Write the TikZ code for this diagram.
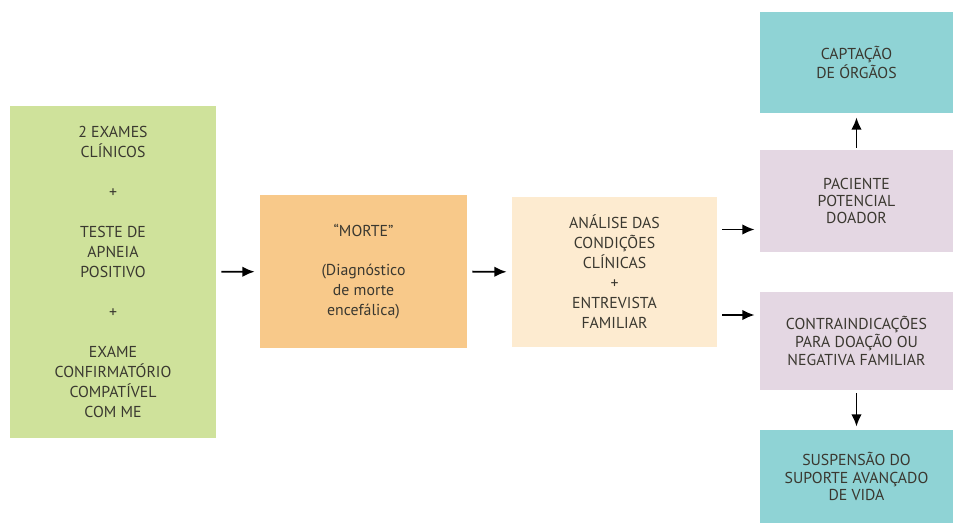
\documentclass[tikz,border=0pt]{standalone}
\usepackage{fontspec}
\setmainfont{PT Sans}
\definecolor{me_green}{RGB}{207, 226, 155}
\definecolor{me_orange}{RGB}{248, 201, 138}
\definecolor{me_beige}{RGB}{253, 235, 208}
\definecolor{me_teal}{RGB}{143, 211, 213}
\definecolor{me_lilac}{RGB}{228, 215, 227}
\definecolor{me_text}{RGB}{58, 56, 48}
\usetikzlibrary{arrows.meta, positioning}

\begin{document}
\begin{tikzpicture}[x=0.02cm, y=-0.02cm,
            font=\fontsize{9}{11.4}\selectfont,
            blk/.style={align=center, inner sep=0pt, text=me_text},
            arr/.style={-{Latex[length=7pt, width=6pt]}, line width=1.1pt,
                        shorten <=0.1cm, shorten >=0.1cm}]
            \useasboundingbox (0,0) rectangle (953,523);
            \node[blk, fill=me_green, minimum width=4.12cm, minimum height=6.64cm] (exams)
              at (113,272) {2 EXAMES\\CLÍNICOS\\[11.4pt]+\\[11.4pt]TESTE DE\\APNEIA\\POSITIVO\\[11.4pt]+\\[11.4pt]EXAME\\CONFIRMATÓRIO\\COMPATÍVEL\\COM ME};
            \node[blk, fill=me_orange, minimum width=4.14cm, minimum height=3.06cm] (death)
              at (363.5,271.5) {“MORTE”\\[10.8pt](Diagnóstico\\de morte\\encefálica)};
            \node[blk, fill=me_beige, minimum width=4.1cm, minimum height=3.0cm] (eval)
              at (614.5,272) {ANÁLISE DAS\\CONDIÇÕES\\CLÍNICAS\\+\\ENTREVISTA\\FAMILIAR};
            \node[blk, fill=me_teal, minimum width=3.86cm, minimum height=2.02cm,
                  font=\fontsize{9}{9.5}\selectfont] (organs)
              at (856.5,62.5) {CAPTAÇÃO\\DE ÓRGÃOS};
            \node[blk, fill=me_lilac, minimum width=3.86cm, minimum height=2.04cm,
                  font=\fontsize{9}{9.5}\selectfont] (donor)
              at (856.5,201) {PACIENTE\\POTENCIAL\\DOADOR};
            \node[blk, fill=me_lilac, minimum width=3.86cm, minimum height=1.96cm,
                  font=\fontsize{9}{10}\selectfont] (contra)
              at (856.5,341) {CONTRAINDICAÇÕES\\PARA DOAÇÃO OU\\NEGATIVA FAMILIAR};
            \node[blk, fill=me_teal, minimum width=3.86cm, minimum height=1.86cm,
                  font=\fontsize{9}{10}\selectfont] (support)
              at (856.5,476.5) {SUSPENSÃO DO\\SUPORTE AVANÇADO\\DE VIDA};
            \coordinate (up) at ([yshift=0.85cm]eval.east);
            \coordinate (down) at ([yshift=-0.86cm]eval.east);
            \draw[arr] (exams) -- (death);
            \draw[arr] (death) -- (eval);
            \draw[arr] (up) -- (up -| donor.west);
            \draw[arr] (down) -- (down -| contra.west);
            \draw[arr, shorten <=0.04cm, shorten >=0.08cm] (donor) -- (organs);
            \draw[arr, shorten <=0.06cm, shorten >=0.06cm] (contra) -- (support);
          \end{tikzpicture}
\end{document}
